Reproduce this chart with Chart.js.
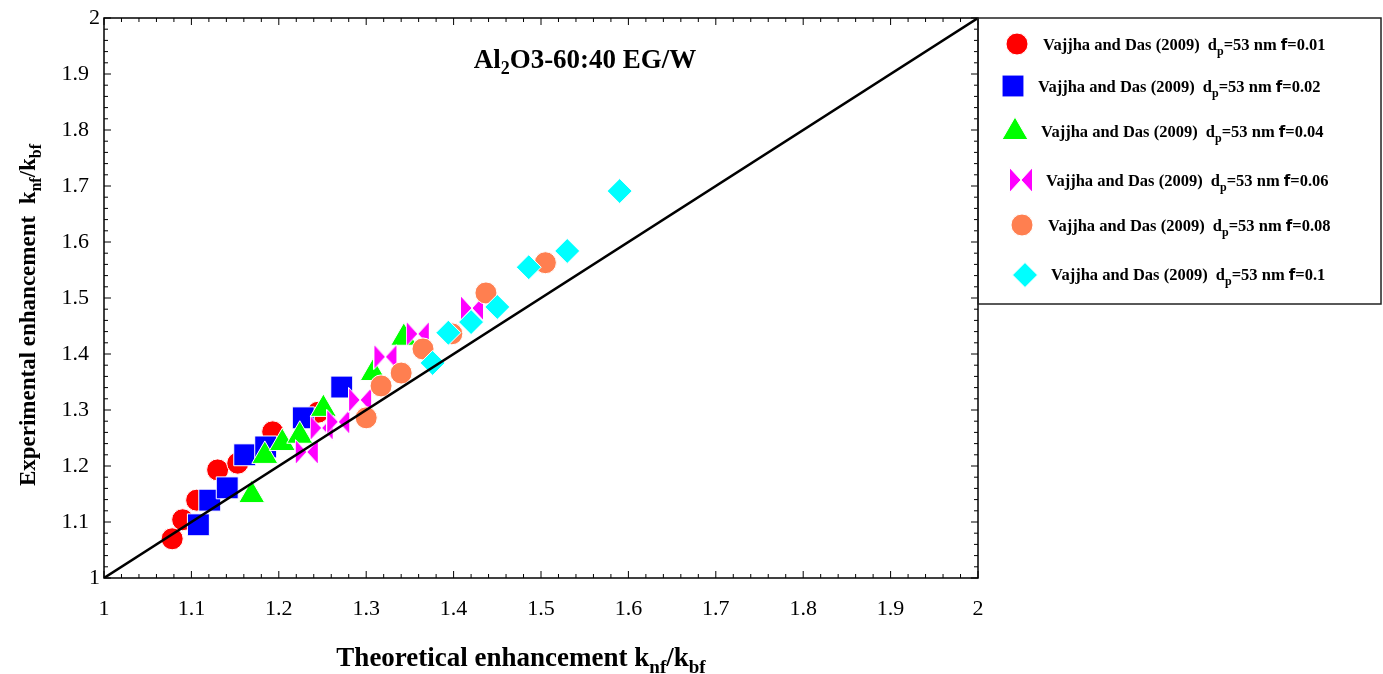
<!DOCTYPE html>
<html>
<head>
<meta charset="utf-8">
<script src="https://cdn.jsdelivr.net/npm/chart.js@4.4.0/dist/chart.umd.min.js"></script>
<style>
  body { margin: 0; background: #fff; }
  canvas { display: block; }
</style>
</head>
<body>
<canvas id="myChart" width="1383" height="674"></canvas>
<script>
// tick labels of both axes
const tickValues = [1, 1.1, 1.2, 1.3, 1.4, 1.5, 1.6, 1.7, 1.8, 1.9, 2];

// legend labels
const seriesNames = ['f=0.01', 'f=0.02', 'f=0.04', 'f=0.06', 'f=0.08', 'f=0.1'];

// theoretical (x) vs experimental (y) enhancement
const theoF001 = [1.078, 1.090, 1.106, 1.130, 1.153, 1.193, 1.245];
const expF001  = [1.070, 1.104, 1.139, 1.193, 1.205, 1.261, 1.296];

const theoF002 = [1.108, 1.121, 1.141, 1.161, 1.185, 1.228, 1.272];
const expF002  = [1.095, 1.139, 1.161, 1.220, 1.234, 1.286, 1.341];

const theoF004 = [1.169, 1.184, 1.204, 1.224, 1.251, 1.308, 1.343];
const expF004  = [1.148, 1.218, 1.241, 1.254, 1.302, 1.366, 1.429];

const theoF006 = [1.232, 1.249, 1.268, 1.293, 1.322, 1.359, 1.421];
const expF006  = [1.225, 1.268, 1.279, 1.318, 1.395, 1.436, 1.482];

const theoF008 = [1.300, 1.317, 1.340, 1.365, 1.398, 1.437, 1.505];
const expF008  = [1.286, 1.343, 1.366, 1.409, 1.436, 1.509, 1.563];

const theoF010 = [1.376, 1.394, 1.420, 1.450, 1.486, 1.530, 1.590];
const expF010  = [1.384, 1.438, 1.457, 1.484, 1.555, 1.584, 1.691];

// y = x reference line
const lineX = [1, 2];
const lineY = [1, 2];

function pts(xs, ys) {
  return xs.map((x, i) => ({ x: x, y: ys[i] }));
}

// bow-tie marker for f=0.06
function bowtie(w, h, color) {
  const c = document.createElement('canvas');
  c.width = w; c.height = h;
  const g = c.getContext('2d');
  g.fillStyle = color;
  g.strokeStyle = '#fff';
  g.lineWidth = 1;
  g.beginPath();
  g.moveTo(0.5, 0.5); g.lineTo(0.5, h - 0.5); g.lineTo(w / 2, h / 2); g.closePath();
  g.moveTo(w - 0.5, 0.5); g.lineTo(w - 0.5, h - 0.5); g.lineTo(w / 2, h / 2); g.closePath();
  g.fill();
  g.stroke();
  return c;
}
const bowMark = bowtie(24, 26, '#ff00ff');

const markers = [
  { color: '#ff0000', style: 'circle', radius: 11 },
  { color: '#0000ff', style: 'rect', radius: 15.5 },
  { color: '#00ff00', style: 'triangle', radius: 15 },
  { color: '#ff00ff', style: bowMark, radius: 13 },
  { color: '#ff7f50', style: 'circle', radius: 11 },
  { color: '#00ffff', style: 'rectRot', radius: 12.5 }
];

const seriesData = [
  pts(theoF001, expF001), pts(theoF002, expF002), pts(theoF004, expF004),
  pts(theoF006, expF006), pts(theoF008, expF008), pts(theoF010, expF010)
];

const datasets = seriesData.map((d, i) => ({
  label: seriesNames[i],
  data: d,
  pointStyle: markers[i].style,
  pointRadius: markers[i].radius,
  pointHoverRadius: markers[i].radius,
  backgroundColor: markers[i].color,
  borderColor: '#ffffff',
  borderWidth: 1,
  order: 6 - i
}));
datasets.push({
  label: 'y=x',
  type: 'line',
  data: pts(lineX, lineY),
  borderColor: '#000',
  borderWidth: 2.5,
  pointRadius: 0,
  fill: false,
  order: 0
});

const serif = '"Liberation Serif", "Times New Roman", serif';

// draws a string made of pieces, some of them subscripts
function richWidth(ctx, parts) {
  let w = 0;
  parts.forEach(p => { ctx.font = p.font; w += ctx.measureText(p.t).width; });
  return w;
}
function drawRich(ctx, parts, x, y) {
  let cx = x;
  parts.forEach(p => {
    ctx.font = p.font;
    ctx.fillText(p.t, cx, y + (p.dy || 0));
    cx += ctx.measureText(p.t).width;
  });
}

const framePlugin = {
  id: 'frame',
  afterDatasetsDraw(chart) {
    const ctx = chart.ctx;
    const a = chart.chartArea;
    const xs = chart.scales.x, ys = chart.scales.y;
    ctx.save();
    ctx.strokeStyle = '#000';
    ctx.lineWidth = 1.5;
    ctx.strokeRect(a.left, a.top, a.right - a.left, a.bottom - a.top);
    ctx.lineWidth = 1;
    ctx.beginPath();
    for (let k = 0; k <= 50; k++) {
      const v = 1 + k * 0.02;
      const len = k % 5 === 0 ? 7 : 4;
      const px = xs.getPixelForValue(v);
      const py = ys.getPixelForValue(v);
      ctx.moveTo(px, a.bottom); ctx.lineTo(px, a.bottom - len);
      ctx.moveTo(px, a.top); ctx.lineTo(px, a.top + len);
      ctx.moveTo(a.left, py); ctx.lineTo(a.left + len, py);
      ctx.moveTo(a.right, py); ctx.lineTo(a.right - len, py);
    }
    ctx.stroke();
    ctx.restore();
  },
  afterDraw(chart) {
    const ctx = chart.ctx;
    ctx.save();
    ctx.fillStyle = '#000';
    ctx.textBaseline = 'alphabetic';

    // title inside the plot
    const B24 = 'bold 27px ' + serif, B16 = 'bold 18px ' + serif;
    const title = [
      { t: 'Al', font: B24 }, { t: '2', font: B16, dy: 6 }, { t: 'O3-60:40 EG/W', font: B24 }
    ];
    drawRich(ctx, title, 585 - richWidth(ctx, title) / 2, 68);

    // axis titles
    const B26 = 'bold 27px ' + serif, B18 = 'bold 19px ' + serif;
    const xTitle = [
      { t: 'Theoretical enhancement k', font: B26 }, { t: 'nf', font: B18, dy: 7 },
      { t: '/k', font: B26 }, { t: 'bf', font: B18, dy: 7 }
    ];
    drawRich(ctx, xTitle, 521 - richWidth(ctx, xTitle) / 2, 666);

    const Y23 = 'bold 23px ' + serif, Y16 = 'bold 16px ' + serif;
    const yTitle = [
      { t: 'Experimental enhancement  k', font: Y23 }, { t: 'nf', font: Y16, dy: 6 },
      { t: '/k', font: Y23 }, { t: 'bf', font: Y16, dy: 6 }
    ];
    ctx.save();
    ctx.translate(35, 315);
    ctx.rotate(-Math.PI / 2);
    drawRich(ctx, yTitle, -richWidth(ctx, yTitle) / 2, 0);
    ctx.restore();

    // legend box
    ctx.strokeStyle = '#222';
    ctx.lineWidth = 1.5;
    ctx.strokeRect(978, 18, 403, 286);

    const L = 'bold 16.5px ' + serif, Ls = 'bold 12px ' + serif;
    const F = 'bold 15px "DejaVu Sans", sans-serif';
    const mx = [1017, 1013, 1015, 1021, 1022, 1025];
    const my = [44, 86, 132, 180, 225, 275];
    const tx = [1043, 1038, 1041, 1046, 1048, 1051];
    const ty = [50, 92, 137, 186, 231, 280];
    seriesNames.forEach((name, i) => {
      const m = markers[i];
      ctx.fillStyle = m.color;
      ctx.strokeStyle = '#fff';
      ctx.lineWidth = 1;
      Chart.helpers.drawPoint(ctx, { pointStyle: m.style, radius: m.radius, rotation: 0, borderWidth: 1 }, mx[i], my[i]);
      ctx.fillStyle = '#000';
      const parts = [
        { t: 'Vajjha and Das (2009)  d', font: L }, { t: 'p', font: Ls, dy: 5 },
        { t: '=53 nm ', font: L }, { t: 'f', font: F }, { t: name.slice(1), font: L }
      ];
      drawRich(ctx, parts, tx[i], ty[i]);
    });
    ctx.restore();
  }
};

new Chart(document.getElementById('myChart'), {
  type: 'scatter',
  data: { datasets: datasets },
  options: {
    responsive: false,
    animation: false,
    layout: { padding: { top: 18, right: 405, left: 0, bottom: 0 } },
    plugins: { legend: { display: false }, tooltip: { enabled: false } },
    scales: {
      x: {
        type: 'linear', min: 1, max: 2,
        afterBuildTicks(s) { s.ticks = tickValues.map(v => ({ value: v })); },
        afterFit(s) { s.height = 96; },
        grid: { display: false, drawTicks: false },
        border: { display: false },
        ticks: {
          color: '#000', padding: 18, maxRotation: 0,
          font: { family: serif, size: 22 },
          callback: v => String(Number(v.toFixed(1)))
        }
      },
      y: {
        type: 'linear', min: 1, max: 2,
        afterBuildTicks(s) { s.ticks = tickValues.map(v => ({ value: v })); },
        afterFit(s) { s.width = 104; },
        grid: { display: false, drawTicks: false },
        border: { display: false },
        ticks: {
          color: '#000', padding: 4,
          font: { family: serif, size: 22 },
          callback: v => {
            const s = String(Number(v.toFixed(1)));
            return s.length > 1 ? s + '\u2002' : s;
          }
        }
      }
    }
  },
  plugins: [framePlugin]
});
</script>
</body>
</html>
